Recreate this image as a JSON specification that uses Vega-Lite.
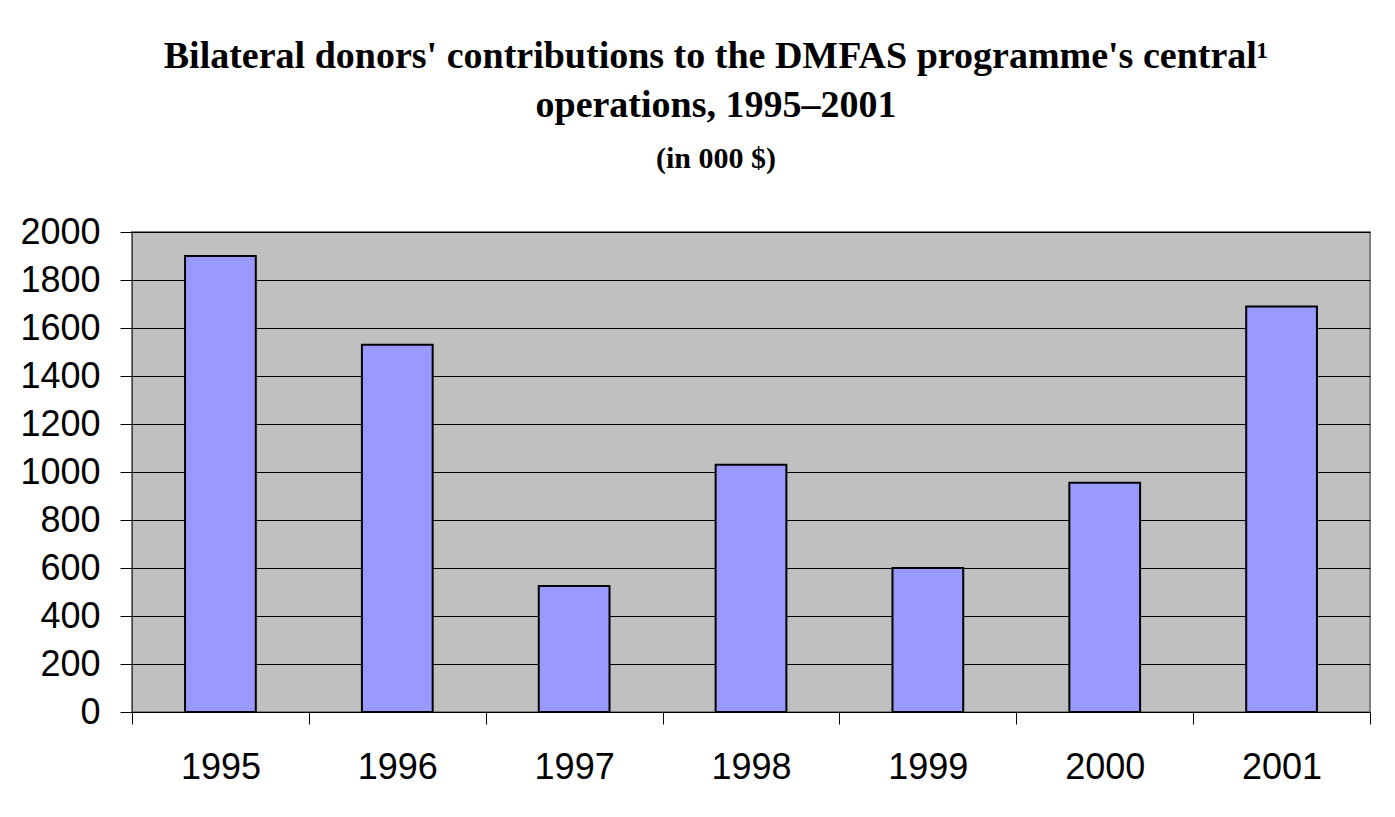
{
  "$schema": "https://vega.github.io/schema/vega-lite/v6.json",
  "width": 1238,
  "height": 480,
  "autosize": "none",
  "padding": {"left": 132, "top": 232, "right": 25, "bottom": 105},
  "background": "white",
  "title": {
    "text": ["Bilateral donors' contributions to the DMFAS programme's central¹", "operations, 1995–2001"],
    "subtitle": "(in 000 $)",
    "font": "Liberation Serif",
    "fontSize": 38,
    "fontWeight": "bold",
    "color": "black",
    "lineHeight": 49,
    "subtitleFont": "Liberation Serif",
    "subtitleFontSize": 30,
    "subtitleFontWeight": "bold",
    "subtitleColor": "black",
    "subtitlePadding": 19,
    "anchor": "middle",
    "dx": -35,
    "offset": 40
  },
  "data": {
    "values": [
      {"year": "1995", "value": 1900},
      {"year": "1996", "value": 1530},
      {"year": "1997", "value": 525},
      {"year": "1998", "value": 1030},
      {"year": "1999", "value": 600},
      {"year": "2000", "value": 955},
      {"year": "2001", "value": 1690}
    ]
  },
  "mark": {"type": "bar", "fill": "#9999FF", "stroke": "black", "strokeWidth": 2, "width": {"band": 0.4}},
  "encoding": {
    "x": {
      "field": "year",
      "type": "ordinal",
      "scale": {"paddingInner": 0, "paddingOuter": 0},
      "axis": {
        "title": null,
        "labelAngle": 0,
        "labelFont": "Liberation Sans",
        "labelFontSize": 36,
        "labelColor": "black",
        "labelPadding": 26,
        "tickBand": "extent",
        "tickSize": 12,
        "tickColor": "black",
        "domainColor": "black",
        "domainWidth": 1,
        "grid": false
      }
    },
    "y": {
      "field": "value",
      "type": "quantitative",
      "scale": {"domain": [0, 2000], "nice": false},
      "axis": {
        "title": null,
        "format": "d",
        "values": [0, 200, 400, 600, 800, 1000, 1200, 1400, 1600, 1800, 2000],
        "labelFont": "Liberation Sans",
        "labelFontSize": 36,
        "labelColor": "black",
        "labelPadding": 20,
        "tickSize": 12,
        "tickColor": "black",
        "domainColor": "#404040",
        "grid": true,
        "gridColor": "black",
        "gridOpacity": 1,
        "gridWidth": 1
      }
    }
  },
  "config": {
    "view": {"fill": "#C0C0C0", "stroke": "#808080", "strokeWidth": 2}
  }
}
